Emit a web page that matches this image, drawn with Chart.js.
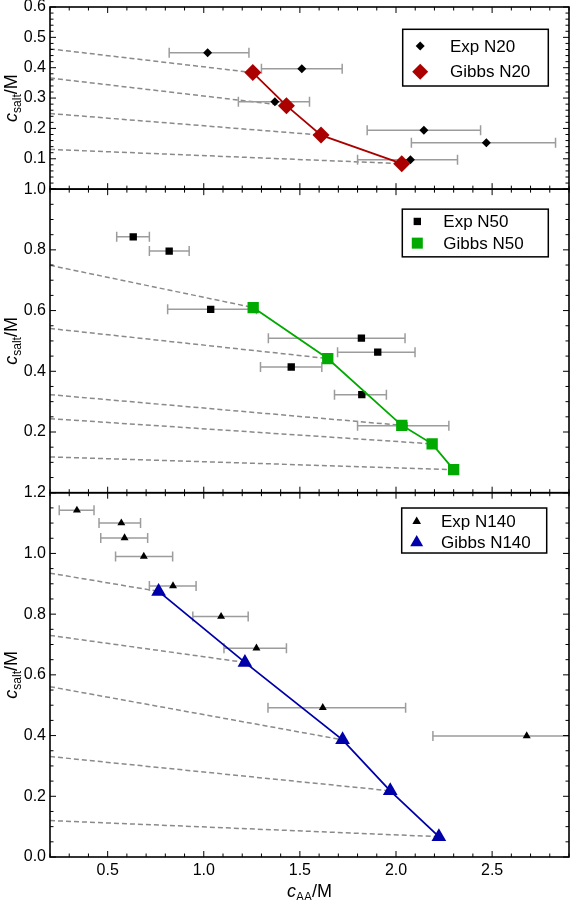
<!DOCTYPE html>
<html><head><meta charset="utf-8">
<script src="https://cdn.jsdelivr.net/npm/chart.js@4.4.1/dist/chart.umd.min.js"></script>
<style>html,body{margin:0;padding:0;background:#fff}canvas{display:block}</style>
</head><body>
<canvas id="c" width="572" height="900" style="width:572px;height:900px"></canvas>
<script>
// ---------- data ----------
const X_MIN = 0.2, X_MAX = 2.9;
const xTicks = [0.5, 1.0, 1.5, 2.0, 2.5];
const yTopTicks = [0.1, 0.2, 0.3, 0.4, 0.5, 0.6];
const yMidTicks = [0.2, 0.4, 0.6, 0.8, 1.0];
const yBotTicks = [0.0, 0.2, 0.4, 0.6, 0.8, 1.0, 1.2];
const TIE_X0 = 0.2;

// N20 panel
const expN20X  = [1.02, 1.51, 1.37, 2.145, 2.47, 2.075];
const expN20Y  = [0.449, 0.397, 0.288, 0.194, 0.153, 0.097];
const expN20Lo = [0.82, 1.30, 1.18, 1.85, 2.08, 1.80];
const expN20Hi = [1.235, 1.72, 1.55, 2.44, 2.83, 2.32];
const gibbsN20X = [1.255, 1.43, 1.61, 2.03];
const gibbsN20Y = [0.384, 0.275, 0.178, 0.084];
const tieN20Y0  = [0.462, 0.366, 0.249, 0.131];

// N50 panel
const expN50X  = [0.633, 0.82, 1.036, 1.82, 1.905, 1.455, 1.822, 2.04];
const expN50Y  = [0.843, 0.796, 0.604, 0.509, 0.463, 0.414, 0.323, 0.221];
const expN50Lo = [0.547, 0.717, 0.812, 1.336, 1.696, 1.295, 1.68, 1.80];
const expN50Hi = [0.717, 0.924, 1.274, 2.047, 2.099, 1.614, 1.95, 2.275];
const gibbsN50X = [1.257, 1.645, 2.03, 2.188, 2.30];
const gibbsN50Y = [0.61, 0.442, 0.222, 0.161, 0.076];
const tieN50Y0  = [0.749, 0.541, 0.323, 0.244, 0.118];

// N140 panel
const expN140X  = [0.34, 0.571, 0.588, 0.688, 0.84, 1.09, 1.274, 1.619, 2.68];
const expN140Y  = [1.142, 1.10, 1.051, 0.99, 0.893, 0.792, 0.688, 0.492, 0.399];
const expN140Lo = [0.248, 0.455, 0.464, 0.541, 0.717, 0.943, 1.105, 1.334, 2.192];
const expN140Hi = [0.429, 0.671, 0.708, 0.838, 0.96, 1.231, 1.43, 2.05, 3.2];
const gibbsN140X = [0.765, 1.214, 1.722, 1.97, 2.223];
const gibbsN140Y = [0.875, 0.641, 0.386, 0.218, 0.067];
const tieN140Y0  = [0.935, 0.73, 0.561, 0.331, 0.12];

const legendN20  = ['Exp N20', 'Gibbs N20'];
const legendN50  = ['Exp N50', 'Gibbs N50'];
const legendN140 = ['Exp N140', 'Gibbs N140'];

// ---------- styles ----------
const FONT = "'Liberation Sans', Arial, Helvetica, sans-serif";
const RED = 'rgb(170,0,0)', GREEN = 'rgb(0,170,0)', BLUE = 'rgb(0,0,170)';
const ERR_COLOR = '#9c9c9c', TIE_COLOR = '#8a8a8a';
Chart.defaults.font.family = FONT;
Chart.defaults.color = '#000';

function pts(xs, ys) { return xs.map((x, i) => ({x: x, y: ys[i]})); }
function errPts(lo, hi, ys) {
  const out = [];
  ys.forEach((y, i) => { out.push({x: lo[i], y: y}, {x: hi[i], y: y}, {x: null, y: null}); });
  out.pop(); return out;
}
function tiePts(y0, gx, gy) {
  const out = [];
  y0.forEach((y, i) => { out.push({x: TIE_X0, y: y}, {x: gx[i], y: gy[i]}, {x: null, y: null}); });
  out.pop(); return out;
}
function panel(yID, ex, ey, elo, ehi, gx, gy, ty0, style, exR, gR, gColor) {
  return [
    {data: pts(gx, gy), yAxisID: yID, showLine: true, borderColor: gColor, borderWidth: 1.8,
     pointStyle: style, pointRadius: gR, pointBackgroundColor: gColor, pointBorderColor: gColor,
     pointBorderWidth: 0, order: 0, clip: 10},
    {data: pts(ex, ey), yAxisID: yID, showLine: false, pointStyle: style, pointRadius: exR,
     pointBackgroundColor: '#000', pointBorderColor: '#000', pointBorderWidth: 0, order: 1, clip: 10},
    {data: errPts(elo, ehi, ey), yAxisID: yID, showLine: true, spanGaps: false, borderColor: ERR_COLOR,
     borderWidth: 1.5, pointStyle: 'line', pointRotation: 90, pointRadius: 5, pointBorderColor: ERR_COLOR,
     pointBorderWidth: 1.5, order: 2, clip: 0},
    {data: tiePts(ty0, gx, gy), yAxisID: yID, showLine: true, spanGaps: false, borderColor: TIE_COLOR,
     borderWidth: 1.5, borderDash: [5, 3], pointRadius: 0, order: 3, clip: 0}
  ];
}

const datasets = [].concat(
  panel('yTop', expN20X, expN20Y, expN20Lo, expN20Hi, gibbsN20X, gibbsN20Y, tieN20Y0, 'rectRot', 4.5, 8.5, RED),
  panel('yMid', expN50X, expN50Y, expN50Lo, expN50Hi, gibbsN50X, gibbsN50Y, tieN50Y0, 'rect', 5.2, 8, GREEN),
  panel('yBot', expN140X, expN140Y, expN140Lo, expN140Hi, gibbsN140X, gibbsN140Y, tieN140Y0, 'triangle', 4.6, 8.5, BLUE)
);

function yAxis(min, max, stackWeight, weight, tickArr) {
  return {
    type: 'linear', position: 'left', stack: 'panels', stackWeight: stackWeight, weight: weight,
    min: min, max: max,
    afterBuildTicks: s => { s.ticks = tickArr.map(v => ({value: v})); },
    ticks: {autoSkip: false, padding: 4, font: {size: 16}, color: '#000',
            callback: v => Number(v).toFixed(1)},
    grid: {display: false, drawTicks: false},
    border: {display: false},
    afterFit: s => { s.width = 50; s.paddingTop = 0; s.paddingBottom = 0; }
  };
}

// ---------- plugins ----------
const MINOR = {yTop: 0.02, yMid: 0.05, yBot: 0.05};
const frame = {
  id: 'frame',
  afterDraw(chart) {
    const ctx = chart.ctx, a = chart.chartArea, xs = chart.scales.x;
    ctx.save();
    ctx.strokeStyle = '#000';
    ['yTop', 'yMid', 'yBot'].forEach(id => {
      const s = chart.scales[id];
      ctx.lineWidth = 1;
      ctx.beginPath();
      const n = Math.round((s.max - s.min) / MINOR[id]);
      for (let i = 0; i <= n; i++) {
        const v = s.min + i * MINOR[id];
        const isMaj = Math.abs(v * 10 - Math.round(v * 10)) < 1e-6 && (id === 'yTop' || Math.round(v * 10) % 2 === 0);
        const len = isMaj ? 6 : 3.5;
        const y = s.getPixelForValue(v);
        ctx.moveTo(a.left, y); ctx.lineTo(a.left + len, y);
        ctx.moveTo(a.right, y); ctx.lineTo(a.right - len, y);
      }
      const nx = Math.round((X_MAX - X_MIN) / 0.1);
      for (let i = 0; i <= nx; i++) {
        const v = X_MIN + i * 0.1;
        const isMaj = Math.abs(v * 2 - Math.round(v * 2)) < 1e-6;
        const len = isMaj ? 6 : 3.5;
        const x = xs.getPixelForValue(v);
        ctx.moveTo(x, s.top); ctx.lineTo(x, s.top + len);
        ctx.moveTo(x, s.bottom); ctx.lineTo(x, s.bottom - len);
      }
      ctx.stroke();
      ctx.lineWidth = 1.6;
      ctx.strokeRect(a.left, s.top, a.right - a.left, s.bottom - s.top);
    });
    ctx.restore();
  }
};

function marker(ctx, style, r, x, y, color) {
  ctx.fillStyle = color;
  if (Chart.helpers && Chart.helpers.drawPoint) {
    Chart.helpers.drawPoint(ctx, {pointStyle: style, radius: r, rotation: 0, borderWidth: 0}, x, y);
  }
}
function subLabel(ctx, main, sub, tail, cx, cy, rot) {
  ctx.save();
  ctx.translate(cx, cy); ctx.rotate(rot);
  ctx.fillStyle = '#000';
  ctx.textBaseline = 'alphabetic';
  const fm = 'italic 18px ' + FONT, fs = '12px ' + FONT, ft = '18px ' + FONT;
  ctx.font = fm; const w1 = ctx.measureText(main).width;
  ctx.font = fs; const w2 = ctx.measureText(sub).width;
  ctx.font = ft; const w3 = ctx.measureText(tail).width;
  let x = -(w1 + w2 + w3) / 2;
  ctx.font = fm; ctx.fillText(main, x, 6); x += w1;
  ctx.font = fs; ctx.fillText(sub, x, 10); x += w2;
  ctx.font = ft; ctx.fillText(tail, x, 6);
  ctx.restore();
}
const LEG = [
  {id: 'yTop', labels: legendN20, style: 'rectRot', r: [4.5, 8], color: RED, dx: 352.7, dy: 22.3, w: 145.6, h: 56.7, mx: 17.5, tx: 47.3, rows: [16.7, 42.4]},
  {id: 'yMid', labels: legendN50, style: 'rect', r: [5.2, 7.8], color: GREEN, dx: 352.3, dy: 20, w: 146, h: 47.7, mx: 15, tx: 41, rows: [12.3, 34]},
  {id: 'yBot', labels: legendN140, style: 'triangle', r: [5, 7.5], color: BLUE, dx: 351.7, dy: 15.3, w: 145, h: 45, mx: 15, tx: 39.3, rows: [13.4, 34.4]}
];
const overlay = {
  id: 'overlay',
  afterDraw(chart) {
    const ctx = chart.ctx, a = chart.chartArea;
    ctx.save();
    LEG.forEach(L => {
      const s = chart.scales[L.id];
      const bx = a.left + L.dx, by = s.top + L.dy;
      ctx.fillStyle = '#fff';
      ctx.fillRect(bx, by, L.w, L.h);
      ctx.strokeStyle = '#000'; ctx.lineWidth = 1.5;
      ctx.strokeRect(bx, by, L.w, L.h);
      L.labels.forEach((t, i) => {
        const y = by + L.rows[i];
        marker(ctx, L.style, L.r[i], bx + L.mx, y, i === 0 ? '#000' : L.color);
        ctx.fillStyle = '#000';
        ctx.font = '17px ' + FONT; ctx.textBaseline = 'middle'; ctx.textAlign = 'left';
        ctx.fillText(t, bx + L.tx, y + 1);
      });
      subLabel(ctx, 'c', 'salt', '/M', 11, (s.top + s.bottom) / 2, -Math.PI / 2);
    });
    subLabel(ctx, 'c', 'AA', '/M', (a.left + a.right) / 2, 891, 0);
    ctx.restore();
  }
};

new Chart(document.getElementById('c'), {
  type: 'scatter',
  data: {datasets: datasets},
  options: {
    responsive: false, devicePixelRatio: 1, animation: false, events: [],
    layout: {autoPadding: false, padding: {top: 7, right: 3, left: 0, bottom: 0}},
    plugins: {legend: {display: false}, tooltip: {enabled: false}},
    scales: {
      x: {
        type: 'linear', position: 'bottom', min: X_MIN, max: X_MAX,
        afterBuildTicks: s => { s.ticks = xTicks.map(v => ({value: v})); },
        ticks: {autoSkip: false, maxRotation: 0, padding: 4, font: {size: 16}, color: '#000',
                callback: v => Number(v).toFixed(1)},
        grid: {display: false, drawTicks: false},
        border: {display: false},
        afterFit: s => { s.height = 43; s.paddingLeft = 0; s.paddingRight = 0; }
      },
      yTop: yAxis(0, 0.6, 0.6, 3, yTopTicks),
      yMid: yAxis(0, 1.0, 1.0, 2, yMidTicks),
      yBot: yAxis(0, 1.2, 1.2, 1, yBotTicks)
    }
  },
  plugins: [frame, overlay]
});
</script>
</body></html>
